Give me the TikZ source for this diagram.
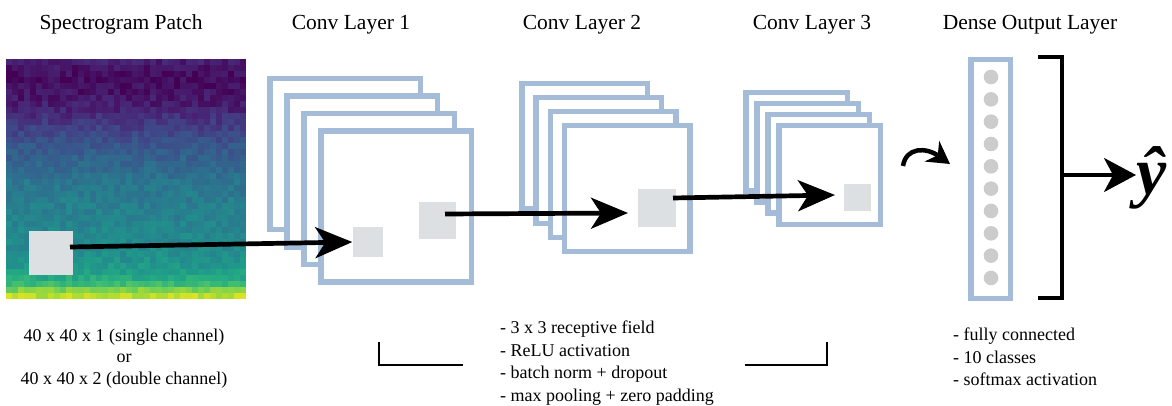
\documentclass[tikz,border=0pt]{standalone}
\usepackage{fontspec}
\setmainfont{Liberation Serif}
\usetikzlibrary{arrows.meta}

% feature-map and patch colours
\definecolor{fmapblue}{RGB}{164,188,216}
\definecolor{patchgray}{RGB}{220,224,227}
\definecolor{dotgray}{RGB}{204,204,204}
% viridis colour stops, t = 0.0, 0.1, ..., 1.0
\definecolor{vir0}{HTML}{440154}
\definecolor{vir1}{HTML}{482475}
\definecolor{vir2}{HTML}{414487}
\definecolor{vir3}{HTML}{355F8D}
\definecolor{vir4}{HTML}{2A788E}
\definecolor{vir5}{HTML}{21918C}
\definecolor{vir6}{HTML}{22A884}
\definecolor{vir7}{HTML}{44BF70}
\definecolor{vir8}{HTML}{7AD151}
\definecolor{vir9}{HTML}{BDDF26}
\definecolor{vir10}{HTML}{FDE725}

\begin{document}
\begin{tikzpicture}[x=1pt,y=-1pt,
  fmap/.style={draw=fmapblue,line width=5.5,fill=white},
  patch/.style={rectangle,fill=patchgray,draw=none,inner sep=0pt},
  conn/.style={line width=4.7,-{Stealth[length=37,width=31,inset=10]}},
  curvarrow/.style={line width=4.5,-{Stealth[length=22,width=25,inset=7]}},
  outarrow/.style={line width=3.6,-{Stealth[length=32,width=34,inset=9]}},
  brk/.style={line width=3.6,line join=miter},
  thinbrk/.style={line width=2.6,line join=miter},
  title/.style={anchor=base,inner sep=0pt,font=\fontsize{21.5}{26}\selectfont},
  note/.style={inner sep=0pt,font=\fontsize{18}{22.5}\selectfont}
]
\useasboundingbox (0,0) rectangle (1172,406);

% ---- spectrogram patch: 40 x 40 noisy viridis cells ----
\pgfmathsetseed{11}
\foreach \r in {0,...,39}{
  \pgfmathsetmacro\base{{0.08,0.05,0.04,0.03,0.04,0.05,0.06,0.08,0.10,0.13,0.16,0.19,0.22,0.24,0.27,0.29,0.31,0.33,0.35,0.37,0.39,0.40,0.41,0.42,0.43,0.44,0.44,0.45,0.46,0.46,0.47,0.48,0.49,0.51,0.53,0.56,0.61,0.68,0.80,0.90}[\r]}
  \foreach \c in {0,...,39}{
    \pgfmathsetmacro\t{max(0,min(0.999,\base+0.05*rand))}
    \pgfmathtruncatemacro\i{floor(\t*10)}
    \pgfmathtruncatemacro\j{\i+1}
    \pgfmathtruncatemacro\p{(\t*10-\i)*100}
    \colorlet{cellc}{vir\j!\p!vir\i}
    \fill[cellc] ({6+6*\c},{59+6*\r}) rectangle +(6.2,6.2);
  }
}

% ---- convolutional feature-map stacks ----
\foreach \k in {0,...,3}
  \draw[fmap] ({269.75+17*\k},{78.75+17.5*\k}) rectangle +(150.5,150.5);
\foreach \k in {0,...,3}
  \draw[fmap] ({521.75+14.3*\k},{83.75+14*\k}) rectangle +(125.5,125.5);
\foreach \k in {0,...,3}
  \draw[fmap] ({745.75+11*\k},{92.75+11*\k}) rectangle +(101.5,98.5);

% ---- receptive-field patches ----
\node[patch,minimum size=44] (p0) at (51,252.5) {};
\node[patch,minimum size=30] (p1) at (367.5,242) {};
\node[patch,minimum size=37] (p2) at (437.5,220.5) {};
\node[patch,minimum size=38] (p3) at (657,208) {};
\node[patch,minimum size=27] (p4) at (857.5,197.5) {};

% ---- dense output layer ----
\node[draw=fmapblue,line width=5.5,fill=white,minimum width=39.5,minimum height=238.5,inner sep=0pt] (dense) at (990.5,179) {};
\foreach \n in {0,...,9}
  \fill[dotgray] (991,{77+22.33*\n}) circle (7.3);

% ---- output bracket and prediction ----
\coordinate (bt) at (1038,57);
\coordinate (bb) at (1038,298);
\coordinate (bm) at (1062,175);
\draw[brk] (bt) -- (1062,57) -- (1062,298) -- (bb);
\node[anchor=base west,inner sep=0pt,font=\fontsize{68}{74}\selectfont\bfseries\itshape] (yhat) at (1136,194) {ŷ};
\coordinate (yin) at (1136,175);
\draw[outarrow] (bm) -- (yin);

% ---- connectors between layers ----
\coordinate (a1) at (70,247);
\coordinate (a2) at (445,214);
\coordinate (t2) at (628,213);
\coordinate (a3) at (673,198);
\coordinate (t3) at (835,195);
\draw[conn] (a1) -- (p1.west);
\draw[conn] (a2) -- (t2);
\draw[conn] (a3) -- (t3);
\coordinate (c0) at (903,166);
\coordinate (c1) at (950,164);
\draw[curvarrow] (c0) .. controls (906,147) and (926,147) .. (c1);

% ---- spans under the conv layers ----
\draw[thinbrk] (379,342) -- (379,365) -- (463,365);
\draw[thinbrk] (745,365) -- (827,365) -- (827,342);

% ---- titles ----
\node[title] (tspec) at (121,30) {Spectrogram Patch};
\node[title] (tc1) at (351,30) {Conv Layer 1};
\node[title] (tc2) at (582,30) {Conv Layer 2};
\node[title] (tc3) at (812,30) {Conv Layer 3};
\node[title] (tdense) at (1030,30) {Dense Output Layer};

% ---- notes ----
\node[note,anchor=north,align=center,font=\fontsize{18}{21.5}\selectfont] (ninput) at (124,328.5)
  {40 x 40 x 1 (single channel)\\or\\40 x 40 x 2 (double channel)};
\node[note,anchor=north west,align=left] (nconv) at (500,321)
  {- 3 x 3 receptive field\\- ReLU activation\\- batch norm + dropout\\- max pooling + zero padding};
\node[note,anchor=north west,align=left] (ndense) at (953,328)
  {- fully connected\\- 10 classes\\- softmax activation};
\end{tikzpicture}
\end{document}
